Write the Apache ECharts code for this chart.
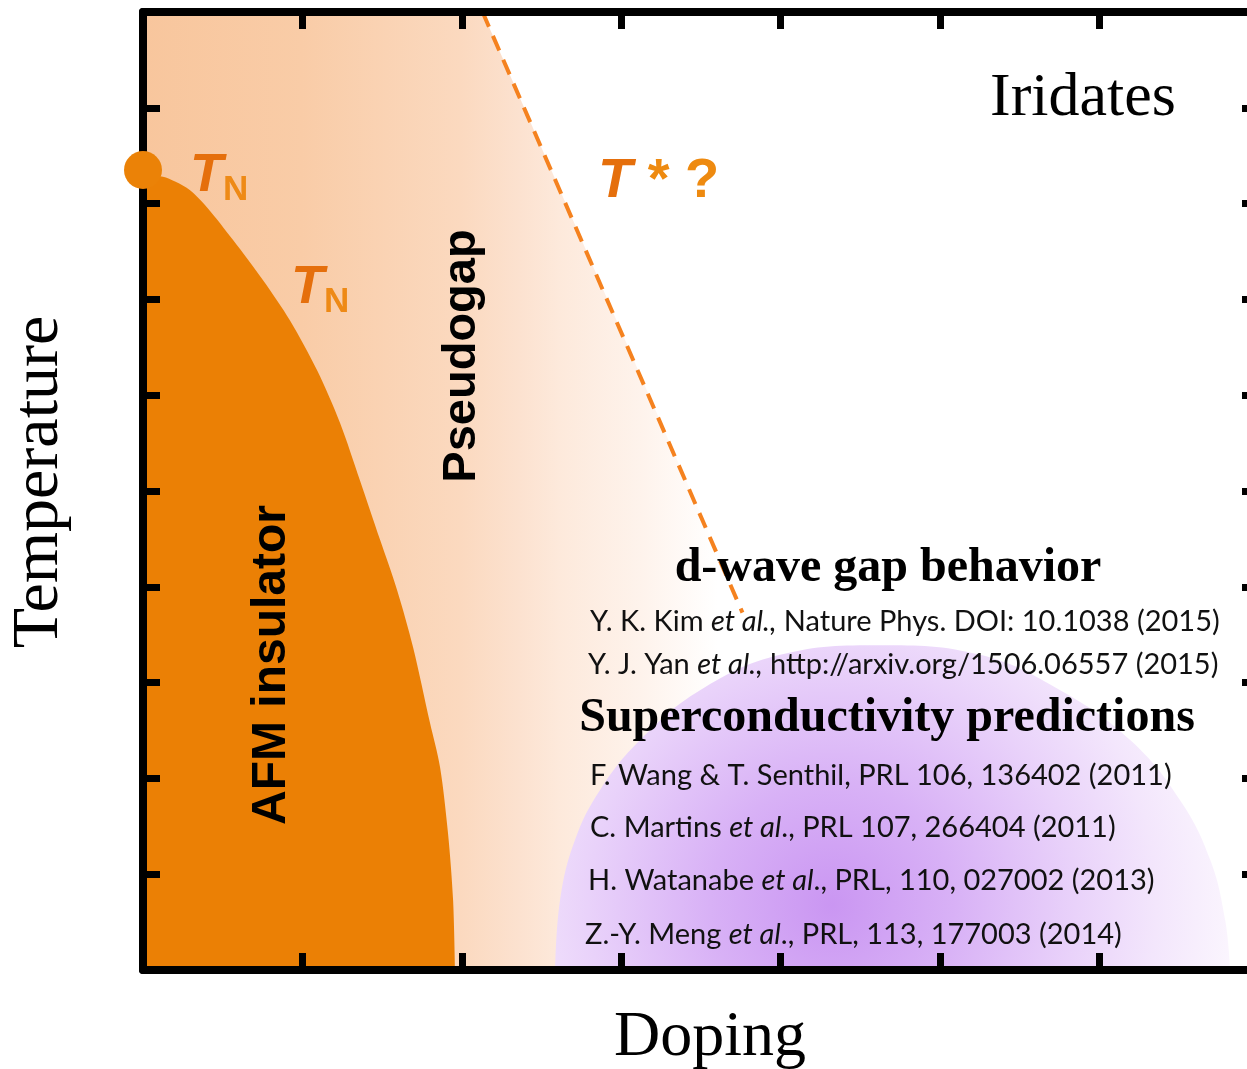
<!DOCTYPE html>
<html>
<head>
<meta charset="utf-8">
<script src="https://cdn.jsdelivr.net/npm/echarts@6/dist/echarts.min.js"></script>
<style>
html, body { margin: 0; padding: 0; background: #ffffff; }
#chart { width: 1247px; height: 1069px; }
</style>
</head>
<body>
<div id="chart"></div>
<script>
// Néel boundary of the AFM insulating phase (doping, temperature in arbitrary units)
const afmDoping = [0, 0.125, 0.201, 0.295, 0.402, 0.565, 0.753, 0.922, 1.092, 1.236, 1.361, 1.487, 1.593, 1.694, 1.800, 1.863, 1.913, 1.945, 1.957];
const afmTemp   = [8.29, 8.28, 8.23, 8.14, 7.96, 7.62, 7.20, 6.78, 6.26, 5.71, 5.11, 4.49, 3.97, 3.37, 2.58, 2.12, 1.43, 0.73, 0];

// T_N of the undoped parent compound
const neelPoint = [0, 8.35];

// T* crossover (dashed)
const tStarDoping = [2.13, 3.76];
const tStarTemp   = [10, 3.73];

// outer edge of the pseudogap shading
const pseudogapDoping = [0, 2.13, 4.74];
const pseudogapTemp   = [10, 10, 0];

// predicted superconducting dome
const scDoping = [2.585, 2.616, 2.710, 2.867, 3.118, 3.494, 3.996, 4.624, 5.251, 5.753, 6.192, 6.506, 6.694, 6.788, 6.819];
const scTemp   = [0, 0.73, 1.36, 1.88, 2.40, 2.92, 3.29, 3.39, 3.29, 2.92, 2.40, 1.77, 1.15, 0.52, 0];

// references: [plain, italic, plain]
const dwaveRefs = [
  ['Y. K. Kim ', 'et al.,', ' Nature Phys. DOI: 10.1038 (2015)'],
  ['Y. J. Yan ', 'et al.,', ' http://arxiv.org/1506.06557 (2015)']
];
const scRefs = [
  ['F. Wang & T. Senthil, PRL 106, 136402 (2011)', '', ''],
  ['C. Martins ', 'et al', '., PRL 107, 266404 (2011)'],
  ['H. Watanabe ', 'et al', '., PRL, 110, 027002 (2013)'],
  ['Z.-Y. Meng ', 'et al', '., PRL, 113, 177003 (2014)']
];

const zip = (xs, ys) => xs.map((x, i) => [x, ys[i]]);

const chart = echarts.init(document.getElementById('chart'), null, { renderer: 'canvas' });

const SERIF = '"Liberation Serif", "Times New Roman", serif';
const SANS = '"Liberation Sans", Arial, sans-serif';
const REF = 'Lato, "Open Sans", sans-serif';

function frameAxis(position, extra) {
  return Object.assign({
    type: 'value',
    position: position,
    z: 10,
    axisLine: { show: true, onZero: false, lineStyle: { color: '#000', width: 8, cap: 'round' } },
    axisTick: { show: true, inside: true, length: 17, lineStyle: { color: '#000', width: 7 } },
    axisLabel: { show: false },
    splitLine: { show: false }
  }, extra);
}

function refText(parts) {
  let s = '{r|' + parts[0] + '}';
  if (parts[1]) s += '{i|' + parts[1] + '}';
  if (parts[2]) s += '{r|' + parts[2] + '}';
  return s;
}

const refRich = {
  r: { fontFamily: REF, fontSize: 29, fill: '#111' },
  i: { fontFamily: REF, fontSize: 29, fontStyle: 'italic', fill: '#111' }
};

const dwaveY = [622, 665];
const dwaveX = [590, 588];
const scY = [776, 828, 881, 935];
const scX = [590, 590, 588, 585];

const tnRich = {
  t: { fontFamily: SANS, fontSize: 54, fontWeight: 'bold', fontStyle: 'italic', fill: '#E56F0C' },
  n: { fontFamily: SANS, fontSize: 35, fontWeight: 'bold', fill: '#EE8A16', padding: [28, 0, 0, 0] }
};

const graphics = [
  { type: 'text', x: 1083, y: 99, z: 50,
    style: { text: 'Iridates', font: '62px ' + SERIF, fill: '#000', align: 'center', verticalAlign: 'middle' } },
  { type: 'text', x: 190, y: 176, z: 50,
    style: { text: '{t|T}{n|N}', rich: tnRich, align: 'left', verticalAlign: 'middle' } },
  { type: 'text', x: 291, y: 288, z: 50,
    style: { text: '{t|T}{n|N}', rich: tnRich, align: 'left', verticalAlign: 'middle' } },
  { type: 'text', x: 598, y: 182, z: 50,
    style: {
      text: '{t|T}{s| * ?}',
      rich: {
        t: { fontFamily: SANS, fontSize: 56, fontWeight: 'bold', fontStyle: 'italic', fill: '#E56F0C' },
        s: { fontFamily: SANS, fontSize: 56, fontWeight: 'bold', fill: '#EE8A10' }
      },
      align: 'left', verticalAlign: 'middle'
    } },
  { type: 'text', x: 462, y: 356, rotation: Math.PI / 2, z: 50,
    style: { text: 'Pseudogap', font: 'bold 47px ' + SANS, fill: '#000', align: 'center', verticalAlign: 'middle' } },
  { type: 'text', x: 272, y: 665, rotation: Math.PI / 2, z: 50,
    style: { text: 'AFM insulator', font: 'bold 48px ' + SANS, fill: '#000', align: 'center', verticalAlign: 'middle' } },
  { type: 'text', x: 888, y: 569, z: 50,
    style: { text: 'd-wave gap behavior', font: 'bold 48px ' + SERIF, fill: '#000', align: 'center', verticalAlign: 'middle' } },
  { type: 'text', x: 887, y: 719, z: 50,
    style: { text: 'Superconductivity predictions', font: 'bold 48px ' + SERIF, fill: '#000', align: 'center', verticalAlign: 'middle' } }
];

dwaveRefs.forEach((p, k) => graphics.push({
  type: 'text', x: dwaveX[k], y: dwaveY[k], z: 50,
  style: { text: refText(p), rich: refRich, align: 'left', verticalAlign: 'middle' }
}));
scRefs.forEach((p, k) => graphics.push({
  type: 'text', x: scX[k], y: scY[k], z: 50,
  style: { text: refText(p), rich: refRich, align: 'left', verticalAlign: 'middle' }
}));

const option = {
  backgroundColor: '#ffffff',
  animation: false,
  grid: { left: 143, top: 12, width: 1116, height: 958, containLabel: false, outerBoundsMode: 'none' },
  xAxis: [
    frameAxis('bottom', {
      min: 0, max: 7, interval: 1,
      name: 'Doping', nameLocation: 'middle', nameGap: 36,
      nameTextStyle: { fontFamily: SERIF, fontSize: 64, color: '#000', padding: [0, 0, 0, 18] }
    }),
    frameAxis('top', { min: 0, max: 7, interval: 1 })
  ],
  yAxis: [
    frameAxis('left', {
      min: 0, max: 10, interval: 1,
      name: 'Temperature', nameLocation: 'middle', nameGap: 70, nameRotate: 90,
      nameTextStyle: { fontFamily: SERIF, fontSize: 66, color: '#000', padding: [0, 0, 0, 18] }
    }),
    frameAxis('right', { min: 0, max: 10, interval: 1 })
  ],
  series: [
    {
      name: 'Pseudogap', type: 'line', z: 1, silent: true,
      data: zip(pseudogapDoping, pseudogapTemp),
      symbol: 'none', lineStyle: { width: 0 },
      areaStyle: {
        opacity: 1,
        color: new echarts.graphic.LinearGradient(0, 0, 1, 0, [
          { offset: 0, color: '#F8C69D' },
          { offset: 0.21, color: '#F9CCA7' },
          { offset: 0.42, color: '#FBD9BF' },
          { offset: 0.5, color: '#FCE2D0' },
          { offset: 0.55, color: '#FDE9DB' },
          { offset: 0.66, color: '#FEF3EC' },
          { offset: 0.76, color: '#FFFFFF' },
          { offset: 1, color: '#FFFFFF' }
        ])
      }
    },
    {
      name: 'Superconductivity', type: 'line', z: 2, silent: true,
      data: zip(scDoping, scTemp), smooth: 0.4,
      symbol: 'none', lineStyle: { width: 0 },
      areaStyle: {
        opacity: 1,
        color: new echarts.graphic.RadialGradient(0.41, 0.8, 1.25, [
          { offset: 0, color: '#CA96F2' },
          { offset: 0.3, color: '#D8B1F6' },
          { offset: 0.6, color: '#E9D2FA' },
          { offset: 0.8, color: '#F3E6FC' },
          { offset: 1, color: '#FBF6FE' }
        ])
      }
    },
    {
      name: 'AFM insulator', type: 'line', z: 3, silent: true,
      data: zip(afmDoping, afmTemp), smooth: 0.3,
      symbol: 'none', lineStyle: { width: 0 },
      areaStyle: { opacity: 1, color: '#EB8005' }
    },
    {
      name: 'T*', type: 'line', z: 4, silent: true,
      data: zip(tStarDoping, tStarTemp),
      symbol: 'none',
      lineStyle: { color: '#F5821F', width: 4, type: [16, 10] }
    },
    {
      name: 'TN', type: 'scatter', z: 20, silent: true, clip: false,
      data: [neelPoint], symbol: 'circle', symbolSize: 38,
      itemStyle: { color: '#EB8207', opacity: 1 }
    }
  ],
  graphic: graphics
};

chart.setOption(option);
</script>
</body>
</html>
